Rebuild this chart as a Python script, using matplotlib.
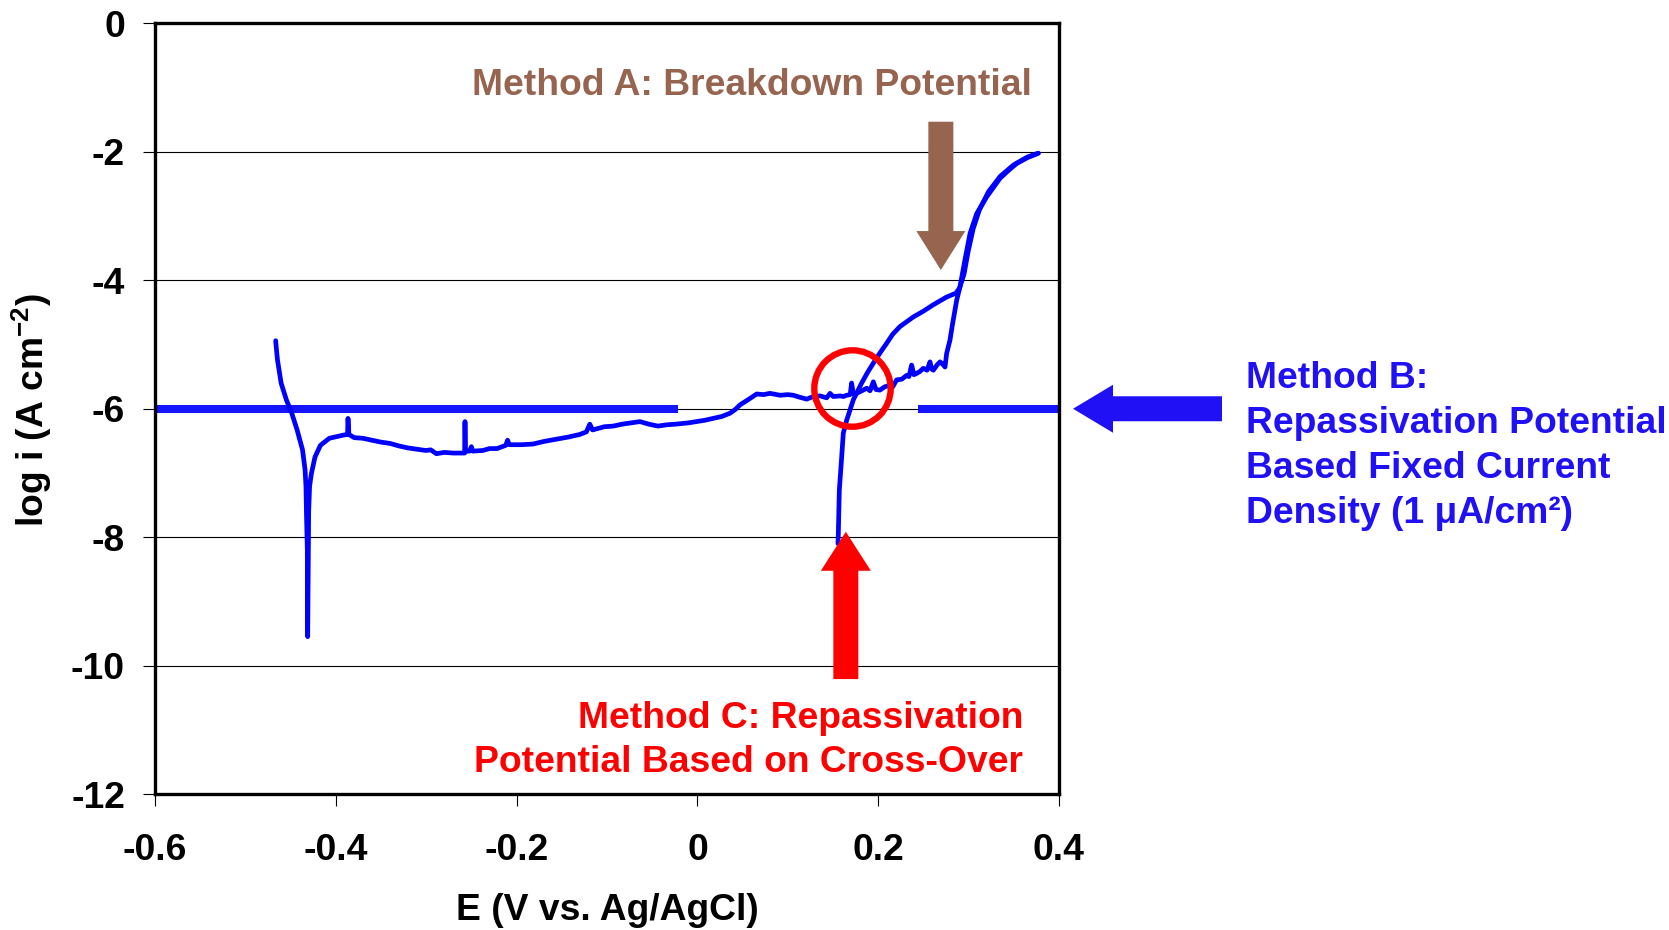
"""
Cyclic potentiodynamic polarization curve with the three common ways of
picking a critical potential: breakdown (A), fixed current density (B) and
forward/reverse cross-over (C).
"""

import matplotlib

matplotlib.use("Agg")
import matplotlib.pyplot as plt
from matplotlib.patches import FancyArrow
import numpy as np

plt.rcParams["font.family"] = ["Liberation Sans", "DejaVu Sans"]
plt.rcParams["font.weight"] = "bold"
plt.rcParams["axes.unicode_minus"] = False
plt.rcParams["mathtext.default"] = "regular"

# -----------------------------------------------------------------------------
# Data
# -----------------------------------------------------------------------------
# Forward scan: cathodic branch down to E_corr, then up the anodic branch.
FWD_E = [
    -0.4665, -0.4655, -0.4645, -0.4625, -0.4605, -0.4547, -0.4487, -0.4428,
    -0.4368, -0.4340, -0.4330, -0.4325, -0.4315, -0.4311, -0.4305, -0.4300,
    -0.4290, -0.4270, -0.4230, -0.4170, -0.4072, -0.3914, -0.3870, -0.3865,
    -0.3855, -0.3796, -0.3700, -0.3598, -0.3500, -0.3400, -0.3300, -0.3203,
    -0.3100, -0.3005, -0.2950, -0.2887, -0.2800, -0.2700, -0.2600, -0.2575,
    -0.2571, -0.2565, -0.2520, -0.2500, -0.2485, -0.2373, -0.2300, -0.2216,
    -0.2120, -0.2100, -0.2080, -0.1950, -0.1820, -0.1700, -0.1623, -0.1500,
    -0.1425, -0.1300, -0.1228, -0.1190, -0.1160, -0.1030, -0.0930, -0.0833,
    -0.0735, -0.0635, -0.0537, -0.0437, -0.0340, -0.0240, -0.0100, -0.0008,
    0.0080, 0.0176, 0.0270, 0.0360, 0.0420, 0.0471, 0.0560, 0.0656,
    0.0730, 0.0803, 0.0914, 0.1000, 0.1061, 0.1130, 0.1209, 0.1280,
    0.1356, 0.1430, 0.1467, 0.1503, 0.1580, 0.1615, 0.1651, 0.1690,
    0.1706, 0.1725, 0.1762, 0.1820, 0.1873, 0.1910, 0.1946, 0.1975,
    0.2019, 0.2070, 0.2130, 0.2160, 0.2204, 0.2260, 0.2315, 0.2340,
    0.2370, 0.2395, 0.2426, 0.2460, 0.2499, 0.2540, 0.2573, 0.2590,
    0.2610, 0.2650, 0.2684, 0.2710, 0.2739, 0.2757, 0.2794, 0.2820,
    0.2845, 0.2868, 0.2905, 0.2960, 0.3016, 0.3090, 0.3200, 0.3348,
    0.3440, 0.3532, 0.3650, 0.3771,
]
FWD_LOGI = [
    -4.94, -5.10, -5.24, -5.42, -5.60, -5.86, -6.07, -6.33,
    -6.64, -6.95, -7.21, -7.60, -8.20, -9.55, -8.56, -7.60,
    -7.21, -7.01, -6.75, -6.57, -6.46, -6.41, -6.40, -6.15,
    -6.40, -6.45, -6.46, -6.49, -6.52, -6.54, -6.58, -6.61,
    -6.63, -6.65, -6.64, -6.70, -6.68, -6.69, -6.69, -6.69,
    -6.20, -6.66, -6.66, -6.59, -6.66, -6.65, -6.62, -6.62,
    -6.57, -6.49, -6.56, -6.56, -6.55, -6.51, -6.49, -6.46,
    -6.44, -6.40, -6.36, -6.24, -6.33, -6.28, -6.27, -6.24,
    -6.22, -6.20, -6.24, -6.27, -6.25, -6.24, -6.22, -6.20,
    -6.18, -6.15, -6.12, -6.07, -6.01, -5.94, -5.86, -5.77,
    -5.78, -5.76, -5.79, -5.78, -5.79, -5.82, -5.85, -5.81,
    -5.80, -5.83, -5.76, -5.81, -5.80, -5.81, -5.79, -5.78,
    -5.60, -5.77, -5.76, -5.72, -5.68, -5.72, -5.58, -5.70,
    -5.71, -5.66, -5.63, -5.66, -5.55, -5.54, -5.48, -5.50,
    -5.32, -5.47, -5.45, -5.42, -5.37, -5.40, -5.27, -5.38,
    -5.40, -5.32, -5.27, -5.30, -5.35, -5.14, -4.93, -4.70,
    -4.50, -4.31, -4.10, -3.68, -3.27, -2.96, -2.70, -2.41,
    -2.29, -2.18, -2.09, -2.02,
]

# Reverse scan back down from the vertex.
REV_E = [
    0.3771, 0.3650, 0.3500, 0.3350, 0.3220, 0.3120, 0.3050, 0.2995,
    0.2950, 0.2900, 0.2860, 0.2757, 0.2610, 0.2500, 0.2389, 0.2241,
    0.2160, 0.2094, 0.2020, 0.1946, 0.1880, 0.1817, 0.1725, 0.1651,
    0.1614, 0.1596, 0.1570, 0.1559, 0.1555,
]
REV_LOGI = [
    -2.02, -2.08, -2.20, -2.38, -2.62, -2.90, -3.20, -3.55,
    -3.90, -4.12, -4.20, -4.26, -4.38, -4.48, -4.57, -4.72,
    -4.84, -4.98, -5.13, -5.29, -5.44, -5.60, -5.86, -6.18,
    -6.38, -6.75, -7.27, -7.94, -8.10,
]

# Method B: fixed current density of 1 uA/cm2
FIXED_CURRENT = 1e-6  # A/cm2
FIXED_LINE_LEFT = (-0.60, -0.0215)
FIXED_LINE_RIGHT = (0.2435, 0.40)

# Marked potentials
E_BREAKDOWN = 0.2693
E_CROSSOVER = 0.1714
LOGI_CROSSOVER = -5.68
E_REPASS = 0.1642

X_TICKS = [-0.6, -0.4, -0.2, 0.0, 0.2, 0.4]
X_TICK_LABELS = ["-0.6", "-0.4", "-0.2", "0", "0.2", "0.4"]
Y_TICKS = [0, -2, -4, -6, -8, -10, -12]
Y_TICK_LABELS = ["0", "-2", "-4", "-6", "-8", "-10", "-12"]

# -----------------------------------------------------------------------------
# Figure
# -----------------------------------------------------------------------------
W, H = 1669, 930
DPI = 100
FS = 26.8

BLUE = "#0000FF"
LINE_BLUE = "#1414FF"
TEXT_BLUE = "#2010F5"
BROWN = "#976450"
RED = "#FF0000"


def fig_xy(px, py):
    """Pixel position (from top-left) to figure fraction."""
    return px / W, 1 - py / H


fig = plt.figure(figsize=(W / DPI, H / DPI), dpi=DPI)
ax = fig.add_axes([155 / W, 1 - 794 / H, (1059 - 155) / W, (794 - 23.5) / H])

ax.set_xlim(-0.6, 0.4)
ax.set_ylim(-12, 0)

# pixel -> data scale factors for sizing the arrows
px_x = 1.0 / 904
px_y = 12.0 / 770.5

ax.yaxis.grid(True, color="black", lw=0.8)
ax.set_axisbelow(True)

fixed_logi = np.log10(FIXED_CURRENT)
ax.plot(FIXED_LINE_LEFT, [fixed_logi] * 2, color=LINE_BLUE, lw=5.8,
        solid_capstyle="butt", zorder=3)
ax.plot(FIXED_LINE_RIGHT, [fixed_logi] * 2, color=LINE_BLUE, lw=5.8,
        solid_capstyle="butt", zorder=3)

ax.plot(FWD_E, FWD_LOGI, color=BLUE, lw=3.4, solid_joinstyle="round",
        solid_capstyle="round", zorder=4)
ax.plot(REV_E, REV_LOGI, color=BLUE, lw=3.4, solid_joinstyle="round",
        solid_capstyle="round", zorder=4)

# Method C: cross-over circle
ax.plot([E_CROSSOVER], [LOGI_CROSSOVER], marker="o", ms=55, mfc="none",
        mec=RED, mew=4.6, zorder=5)

# Method A arrow (pointing down)
ax.add_patch(FancyArrow(E_BREAKDOWN, -1.53, 0, -3.84 + 1.53,
                        width=25 * px_x, head_width=49 * px_x,
                        head_length=39 * px_y, length_includes_head=True,
                        color=BROWN, lw=0, zorder=6))

# Method C arrow (pointing up)
ax.add_patch(FancyArrow(E_REPASS, -10.21, 0, -7.916 + 10.21,
                        width=25 * px_x, head_width=50 * px_x,
                        head_length=39 * px_y, length_includes_head=True,
                        color=RED, lw=0, zorder=6))

# Method B arrow (pointing left, outside the plot area)
ax.add_patch(FancyArrow(0.5803, fixed_logi, 0.4155 - 0.5803, 0,
                        width=25 * px_y, head_width=48 * px_y,
                        head_length=40 * px_x, length_includes_head=True,
                        color=TEXT_BLUE, lw=0, zorder=6, clip_on=False))

for side in ["left", "right", "top", "bottom"]:
    ax.spines[side].set_linewidth(2.4)
    ax.spines[side].set_zorder(7)

ax.set_xticks(X_TICKS)
ax.set_xticklabels(X_TICK_LABELS)
ax.set_yticks(Y_TICKS)
ax.set_yticklabels(Y_TICK_LABELS)
ax.tick_params(axis="both", direction="out", length=8.6, width=0.8,
               labelsize=FS)
ax.tick_params(axis="y", pad=13)
ax.tick_params(axis="x", pad=19.5)
ax.tick_params(top=False, right=False)
for lbl in ax.get_xticklabels() + ax.get_yticklabels():
    lbl.set_fontweight("bold")

fig.text(*fig_xy(607, 910), "E (V vs. Ag/AgCl)", ha="center", va="center",
         fontsize=FS, fontweight="bold")
fig.text(*fig_xy(32, 410), "log i (A cm$^{-2}$)", ha="center", va="center",
         rotation=90, fontsize=FS, fontweight="bold")

# Method labels
fig.text(*fig_xy(1032, 95), "Method A: Breakdown Potential", ha="right",
         va="baseline", fontsize=FS, fontweight="bold", color=BROWN)

b_lines = ["Method B:", "Repassivation Potential", "Based Fixed Current",
           "Density (1 \u03bcA/cm\u00b2)"]
for i, line in enumerate(b_lines):
    fig.text(*fig_xy(1246, 388 + 45 * i), line, ha="left", va="baseline",
             fontsize=FS, fontweight="bold", color=TEXT_BLUE)

c_lines = ["Method C: Repassivation", "Potential Based on Cross-Over"]
for i, line in enumerate(c_lines):
    fig.text(*fig_xy(1023, 728 + 44 * i), line, ha="right", va="baseline",
             fontsize=FS, fontweight="bold", color=RED)

fig.savefig("out.png", dpi=DPI)
